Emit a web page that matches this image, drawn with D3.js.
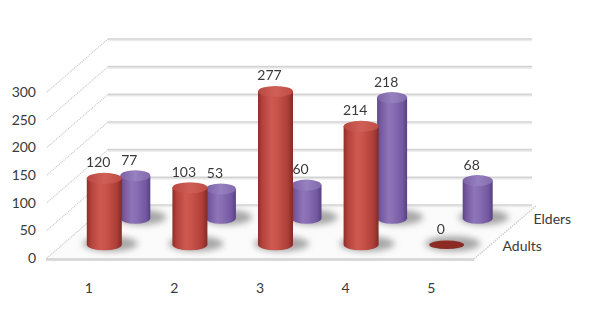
<!DOCTYPE html>
<html>
<head>
<meta charset="utf-8">
<script src="https://cdn.jsdelivr.net/npm/d3@7"></script>
<style>
  html, body { margin: 0; padding: 0; background: #ffffff; }
  svg { display: block; }
  text { font-family: Lato, "Open Sans", sans-serif; fill: #3a3a3a; }
</style>
</head>
<body>
<svg id="chart" width="600" height="329"></svg>
<script>
// ---- data ----
const categories = ["1", "2", "3", "4", "5"];
const adultsValues = [120, 103, 277, 214, 0];
const eldersValues = [77, 53, 60, 218, 68];
const seriesNames = ["Adults", "Elders"];
const yTickValues = [0, 50, 100, 150, 200, 250, 300];

// ---- geometry ----
const svg = d3.select("#chart");
const F = { x: 46, y: 258 };      // front-left floor corner
const W = 428;                     // floor width
const D = { x: 62, y: -53 };       // depth vector (front -> back)

const xBand = d3.scaleBand().domain(categories).range([0, W]);
const depth = d3.scalePoint().domain(seriesNames).range([0, 1]).padding(0.5);
const yScale = d3.scaleLinear().domain([0, 300]).range([0, 166]);

function proj(u, d, v) {
  return [F.x + u + d * D.x, F.y + d * D.y - yScale(v)];
}

const defs = svg.append("defs");
const blur = defs.append("filter").attr("id", "blur").attr("x", "-50%").attr("y", "-50%").attr("width", "200%").attr("height", "200%");
blur.append("feGaussianBlur").attr("stdDeviation", 3.2);

function grad(id, stops) {
  const g = defs.append("linearGradient").attr("id", id).attr("x1", "0%").attr("x2", "100%").attr("y1", "0%").attr("y2", "0%");
  stops.forEach(s => g.append("stop").attr("offset", s[0]).attr("stop-color", s[1]));
}
grad("redBody", [["0%", "#8e2e29"], ["12%", "#b3423b"], ["38%", "#cd5a52"], ["55%", "#c9534b"], ["85%", "#ad3f38"], ["100%", "#832a25"]]);
grad("purpleBody", [["0%", "#5d4683"], ["12%", "#7559a0"], ["38%", "#8e74b8"], ["55%", "#886db2"], ["85%", "#7258a0"], ["100%", "#574180"]]);
grad("redTop", [["0%", "#b9473f"], ["50%", "#cf6058"], ["100%", "#bf4c44"]]);
grad("purpleTop", [["0%", "#7b61a6"], ["50%", "#9781bf"], ["100%", "#826aac"]]);

const series = [
  { name: "Elders", values: eldersValues, body: "url(#purpleBody)", top: "url(#purpleTop)", rx: 15 },
  { name: "Adults", values: adultsValues, body: "url(#redBody)", top: "url(#redTop)", rx: 17.5 }
];

// ---- floor ----
const floorPts = [proj(0, 0, 0), proj(W, 0, 0), proj(W, 1, 0), proj(0, 1, 0)];
svg.append("polygon").attr("points", floorPts.map(p => p.join(",")).join(" "))
  .attr("fill", "#fbfbfb");
// front slab
svg.append("polygon")
  .attr("points", [[F.x, F.y], [F.x + W, F.y], [F.x + W, F.y + 3], [F.x, F.y + 3]].map(p => p.join(",")).join(" "))
  .attr("fill", "#d9d9d9");
// right edge
svg.append("line")
  .attr("x1", F.x + W).attr("y1", F.y + 1).attr("x2", F.x + W + D.x).attr("y2", F.y + D.y + 1)
  .attr("stroke", "#cfcfcf").attr("stroke-width", 1.5).attr("stroke-dasharray", "1.5,1");

// ---- back wall gridlines & side wall lines ----
const grid = svg.append("g");
yTickValues.forEach(v => {
  const a = proj(0, 1, v), b = proj(W, 1, v);
  grid.append("line").attr("x1", a[0]).attr("y1", a[1] + 1.5).attr("x2", b[0] - 4).attr("y2", b[1] + 1.5)
    .attr("stroke", "#ececec").attr("stroke-width", 1.5);
  grid.append("line").attr("x1", a[0]).attr("y1", a[1]).attr("x2", b[0] - 4).attr("y2", b[1])
    .attr("stroke", "#d3d3d3").attr("stroke-width", 1.6);
  const s = proj(0, 0, v);
  grid.append("line").attr("x1", s[0] + 1).attr("y1", s[1]).attr("x2", a[0]).attr("y2", a[1])
    .attr("stroke", "#c8c8c8").attr("stroke-width", 1.2).attr("stroke-dasharray", "1,1");
});

// ---- y axis labels ----
svg.append("g").selectAll("text").data(yTickValues).join("text")
  .attr("x", 36).attr("y", d => proj(0, 0, d)[1])
  .attr("dy", "0.35em").attr("text-anchor", "end")
  .attr("font-size", 14).text(d => d);

// ---- category labels ----
svg.append("g").selectAll("text").data(categories).join("text")
  .attr("x", d => F.x + xBand(d) + xBand.bandwidth() / 2)
  .attr("y", 288).attr("dy", "0.35em").attr("text-anchor", "middle")
  .attr("font-size", 14).text(d => d);

// ---- series (depth) labels ----
svg.append("g").selectAll("text").data(seriesNames).join("text")
  .attr("x", d => proj(W, depth(d), 0)[0] + 13)
  .attr("y", d => proj(W, depth(d), 0)[1] + 1)
  .attr("dy", "0.35em").attr("font-size", 14).text(d => d);

// ---- shadows ----
const shadowG = svg.append("g").attr("filter", "url(#blur)");
series.forEach(s => {
  categories.forEach((c, i) => {
    const [cx, cy] = proj(xBand(c) + xBand.bandwidth() / 2, depth(s.name), 0);
    shadowG.append("ellipse").attr("cx", cx + 6).attr("cy", cy - 1)
      .attr("rx", s.rx + 10).attr("ry", 7.5).attr("fill", "#8a8a8a").attr("opacity", 0.75);
  });
});

// ---- cylinders ----
const RY = 5.5;
series.forEach(s => {
  const g = svg.append("g");
  categories.forEach((c, i) => {
    const v = s.values[i];
    const [cx, by] = proj(xBand(c) + xBand.bandwidth() / 2, depth(s.name), 0);
    const ty = proj(xBand(c) + xBand.bandwidth() / 2, depth(s.name), v)[1];
    if (v > 0) {
      const path = `M${cx - s.rx},${ty} L${cx - s.rx},${by} A${s.rx},${RY} 0 0 0 ${cx + s.rx},${by} L${cx + s.rx},${ty} Z`;
      g.append("path").attr("d", path).attr("fill", s.body);
      g.append("ellipse").attr("cx", cx).attr("cy", ty).attr("rx", s.rx).attr("ry", RY).attr("fill", s.top);
    } else {
      g.append("ellipse").attr("cx", cx).attr("cy", by).attr("rx", s.rx).attr("ry", RY - 1.2).attr("fill", "#8c2a24");
    }
    g.append("text").attr("x", cx - 6).attr("y", ty - 11)
      .attr("text-anchor", "middle").attr("font-size", 14).text(v);
  });
});
</script>
</body>
</html>
